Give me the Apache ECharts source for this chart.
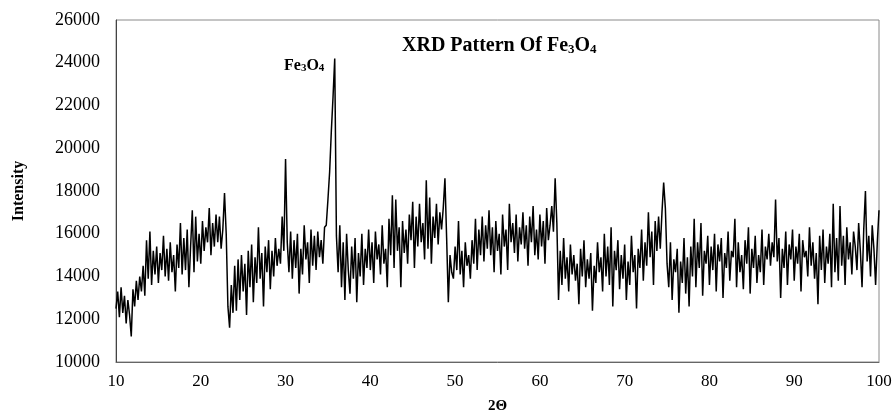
<!DOCTYPE html>
<html>
<head>
<meta charset="utf-8">
<script src="https://cdn.jsdelivr.net/npm/echarts@6/dist/echarts.min.js"></script>
<style>html,body{margin:0;padding:0;background:#fff}#c{width:893px;height:410px}</style>
</head>
<body>
<div id="c"></div>
<script>
// 2θ sampling: start and step of the scan (degrees)
const thetaStart = 10;
const thetaStep = 0.2;
// Intensity readings, one row per 2 degrees (10 readings each)
const intensity = [
12500,13300,12100,13500,12300,13100,11800,12900,12200,11200,
13400,12600,13800,12900,14000,13300,14500,13100,15700,13900,
16100,13600,15200,14100,15400,13700,15100,14300,15900,14000,
15300,13800,15600,14200,15000,13300,15500,14400,16500,14100,
15800,14300,16200,13500,15400,17100,14200,16800,14700,16000,
14600,16600,15200,16300,15600,17200,15000,16500,15400,16900,
15600,16800,15300,16200,17900,16000,12600,11600,13600,12300,
14500,12400,14800,12900,15000,13300,14600,12200,15200,13500,
15500,12800,14900,13700,16300,13900,15100,12600,15400,14200,
15700,13400,15200,14000,15800,14500,15300,14600,16800,15200,
19500,15600,14200,16100,13900,15700,14400,16000,13200,15300,
14100,16400,14800,15600,13700,16200,14500,15900,14300,16100,
14900,15700,14600,16300,16400,17600,18900,20800,22400,24200,
15900,14200,16400,13500,15600,12900,16000,14300,13200,15400,
13900,15800,12800,15100,14000,16000,13600,15300,14400,16200,
14300,15600,13700,16100,14800,15500,14100,16400,14600,15300,
13500,16700,15000,17800,14400,17600,15200,16300,13500,16600,
15100,16200,14600,16900,15700,17500,14400,16800,15400,17400,
15600,16500,14800,18500,15300,17700,14600,16800,15800,17400,
15500,17000,16200,17200,18600,15800,12800,15000,14200,13900,
15400,14300,16600,14100,15200,13500,15600,14500,15000,13900,
15700,14600,16700,14300,16200,15000,16800,14700,16400,15300,
17100,15000,16300,14200,16600,15200,16000,14100,16900,15400,
16200,14300,17400,15600,16500,15100,16900,14700,16300,15500,
17000,15300,16400,14500,16800,15600,17300,15000,16200,14800,
16900,15400,16600,14600,17200,15700,16400,17300,16100,18600,
16500,12900,15200,13600,15800,13900,14900,13300,15500,14100,
15000,13800,14600,12700,15300,14000,15700,13500,14800,13900,
15100,12400,14500,13700,15600,14200,14900,13300,16000,14000,
15400,13600,16300,12600,15200,14300,15700,13400,15000,13900,
15500,12900,14700,13600,15900,14200,15000,12500,15300,14400,
16200,13800,15600,14500,17000,14900,16100,13600,16600,15200,
16800,15300,17000,18400,17200,14600,13500,15600,12900,14800,
14200,15300,12300,14700,13700,15800,13200,14900,12600,15400,
14000,16700,13500,15600,14400,16500,13100,15200,14600,15900,
13600,15400,14300,16000,13300,15500,14700,15800,13000,15100,
14400,16100,13800,15200,14900,16700,13500,15600,14200,15000,
13400,15700,14600,16300,13200,15300,14400,15900,13700,15000,
14200,16200,13600,15400,14800,16000,14500,15600,14900,17600,
14700,15800,13000,15300,14400,16100,13600,15500,14800,16200,
13800,15400,14600,16000,13300,15700,14900,15200,14000,16300,
14500,15600,13900,15100,12700,15900,14300,16200,13700,15400,
14600,16000,13500,17400,14200,15800,13800,17300,14500,15900,
13600,16300,14800,15600,14100,16100,15400,14300,16500,15200,
13500,16200,18000,14700,15900,14000,16400,15300,13600,15600,
17100
];
const yTicks = {min: 10000, max: 26000, interval: 2000};
const xTicks = {min: 10, max: 100, interval: 10};

const points = intensity.map((v, i) => [+(thetaStart + i * thetaStep).toFixed(2), v]);
const serif = "'Liberation Serif','Times New Roman',serif";

const chart = echarts.init(document.getElementById('c'), null, {renderer: 'canvas'});
chart.setOption({
  animation: false,
  backgroundColor: '#fff',
  title: [
    {
      text: '{b|XRD Pattern Of Fe}{s|3}{b|O}{s|4}',
      left: 397, top: 27,
      textStyle: {
        rich: {
          b: {fontFamily: serif, fontWeight: 'bold', fontSize: 20, color: '#000', verticalAlign: 'bottom', lineHeight: 24},
          s: {fontFamily: serif, fontWeight: 'bold', fontSize: 13, color: '#000', verticalAlign: 'bottom', lineHeight: 19}
        }
      }
    },
    {
      text: '{b|Fe}{s|3}{b|O}{s|4}',
      left: 279, top: 49,
      textStyle: {
        rich: {
          b: {fontFamily: serif, fontWeight: 'bold', fontSize: 16, color: '#000', verticalAlign: 'bottom', lineHeight: 20},
          s: {fontFamily: serif, fontWeight: 'bold', fontSize: 11, color: '#000', verticalAlign: 'bottom', lineHeight: 16}
        }
      }
    }
  ],
  grid: {left: 116, right: 14, top: 20, bottom: 48, show: true, borderColor: '#8a8a8a', borderWidth: 1, backgroundColor: 'transparent', containLabel: false, outerBoundsMode: 'none'},
  xAxis: {
    type: 'value', min: xTicks.min, max: xTicks.max, interval: xTicks.interval,
    name: '2Θ', nameLocation: 'middle', nameGap: 37,
    nameTextStyle: {fontFamily: serif, fontWeight: 'bold', fontSize: 15, color: '#000'},
    axisLine: {show: true, lineStyle: {color: '#666', width: 1}},
    axisTick: {show: false},
    splitLine: {show: false},
    axisLabel: {fontFamily: serif, fontSize: 17, color: '#000', margin: 11}
  },
  yAxis: {
    type: 'value', min: yTicks.min, max: yTicks.max, interval: yTicks.interval,
    name: 'Intensity', nameLocation: 'middle', nameGap: 89,
    nameTextStyle: {fontFamily: serif, fontWeight: 'bold', fontSize: 16, color: '#000'},
    axisLine: {show: true, lineStyle: {color: '#444', width: 1}},
    axisTick: {show: false},
    splitLine: {show: false},
    axisLabel: {fontFamily: serif, fontSize: 18, color: '#000', margin: 16, formatter: v => String(v)}
  },
  series: [{
    type: 'line',
    data: points,
    showSymbol: false,
    symbol: 'none',
    lineStyle: {color: '#000', width: 1.5},
    silent: true
  }]
});
</script>
</body>
</html>
